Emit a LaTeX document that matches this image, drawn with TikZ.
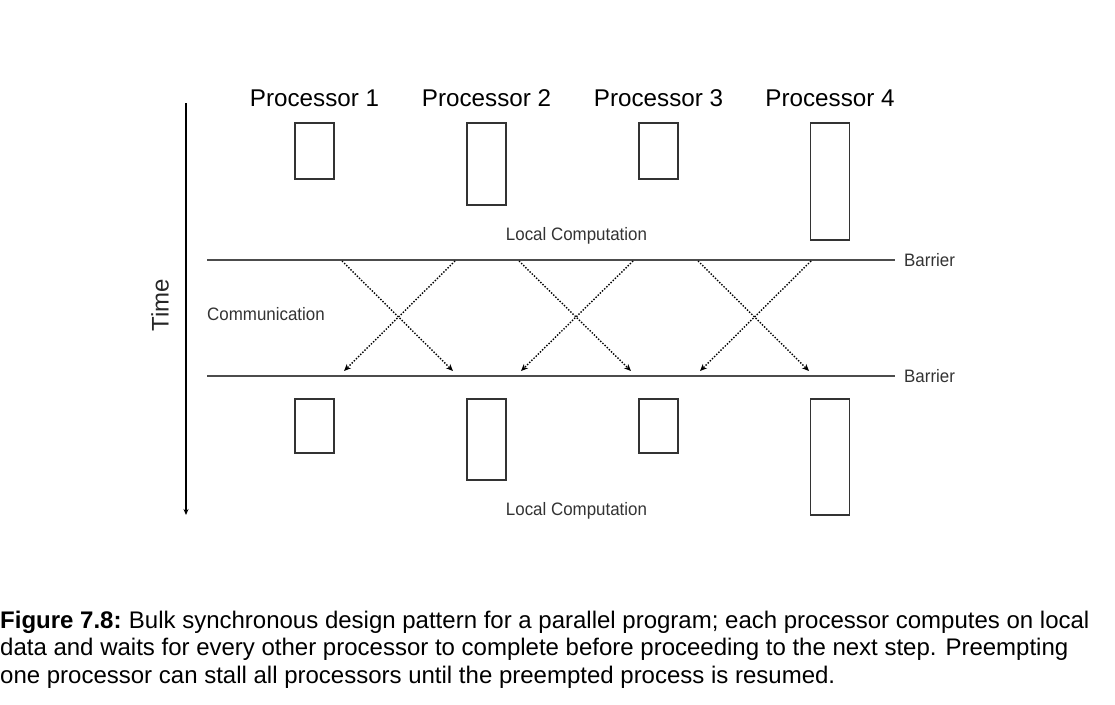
\documentclass[tikz,border=0pt]{standalone}
\usepackage{fontspec}
\setmainfont{Liberation Sans}
\usetikzlibrary{arrows.meta}
\begin{document}
\begin{tikzpicture}[x=1pt,y=-1pt,
  box/.style={draw=black!80, line width=1.6pt, minimum width=39pt, inner sep=0pt, fill=none},
  proclabel/.style={anchor=base, font=\fontsize{24.2}{27}\selectfont, text=black},
  narrow/.style={font=\fontsize{18}{20}\selectfont, xscale=0.94, text=black!80, inner sep=0pt},
  barrier/.style={draw=black!70, line width=1.4pt},
  msg/.style={dash pattern=on 1.4pt off 1.6pt, line width=1.4pt, -{Stealth[length=7pt,width=6pt]}},
  capt/.style={anchor=base west, inner sep=0pt, font=\fontsize{24}{28}\selectfont, text=black}]
\useasboundingbox (0,0) rectangle (1115,704);

% time axis
\coordinate (ttop) at (186,103);
\coordinate (tbot) at (186,515);
\draw[line width=1.4pt, -{Stealth[length=6pt,width=5pt]}] (ttop) -- (tbot);
\node[rotate=90, font=\fontsize{24}{27}\selectfont, text=black!85] (time) at (160,305) {Time};

% processor labels
\node[proclabel] (p1) at (314.5,106) {Processor 1};
\node[proclabel] (p2) at (486.5,106) {Processor 2};
\node[proclabel] (p3) at (658.5,106) {Processor 3};
\node[proclabel] (p4) at (830,106) {Processor 4};

% top computation boxes
\node[box, minimum height=56pt, anchor=north] (a1) at (314.5,122) {};
\node[box, minimum height=82pt, anchor=north] (a2) at (486.5,122) {};
\node[box, minimum height=56pt, anchor=north] (a3) at (658.5,122) {};
\node[box, minimum height=117pt, anchor=north] (a4) at (830,122) {};

% bottom computation boxes
\node[box, minimum height=54pt, anchor=north] (b1) at (314.5,398) {};
\node[box, minimum height=81pt, anchor=north] (b2) at (486.5,398) {};
\node[box, minimum height=54pt, anchor=north] (b3) at (658.5,398) {};
\node[box, minimum height=116pt, anchor=north] (b4) at (830,398) {};

% barriers
\coordinate (bl1) at (207,260);
\coordinate (br1) at (895,260);
\coordinate (bl2) at (207,376);
\coordinate (br2) at (895,376);
\draw[barrier] (bl1) -- (br1);
\draw[barrier] (bl2) -- (br2);
\node[narrow, anchor=base west] (bar1) at (904,266.5) {Barrier};
\node[narrow, anchor=base west] (bar2) at (904,382) {Barrier};

% labels
\node[narrow, anchor=base] (lc1) at (576.5,240) {Local Computation};
\node[narrow, anchor=base] (lc2) at (576.5,515) {Local Computation};
\node[narrow, anchor=base west] (comm) at (207,320) {Communication};

% communication crosses
\foreach \i/\l/\r in {1/342/455, 2/519/633, 3/698/811}{
  \coordinate (s\i l) at (\l,261);
  \coordinate (s\i r) at (\r,261);
  \coordinate (e\i l) at (\l+2,371);
  \coordinate (e\i r) at (\r-2,371);
  \draw[msg] (s\i l) -- (e\i r);
  \draw[msg] (s\i r) -- (e\i l);
}

% caption
\node[capt] (c1) at (0,628) {\textbf{Figure 7.8:}\hspace{-1.5pt} Bulk synchronous design pattern for a parallel program; each processor computes on local};
\node[capt] (c2) at (0,655.5) {data and waits for every other processor to complete before proceeding to the next step. Preempting};
\node[capt] (c3) at (0,683) {one processor can stall all processors until the preempted process is resumed.};
\end{tikzpicture}
\end{document}
